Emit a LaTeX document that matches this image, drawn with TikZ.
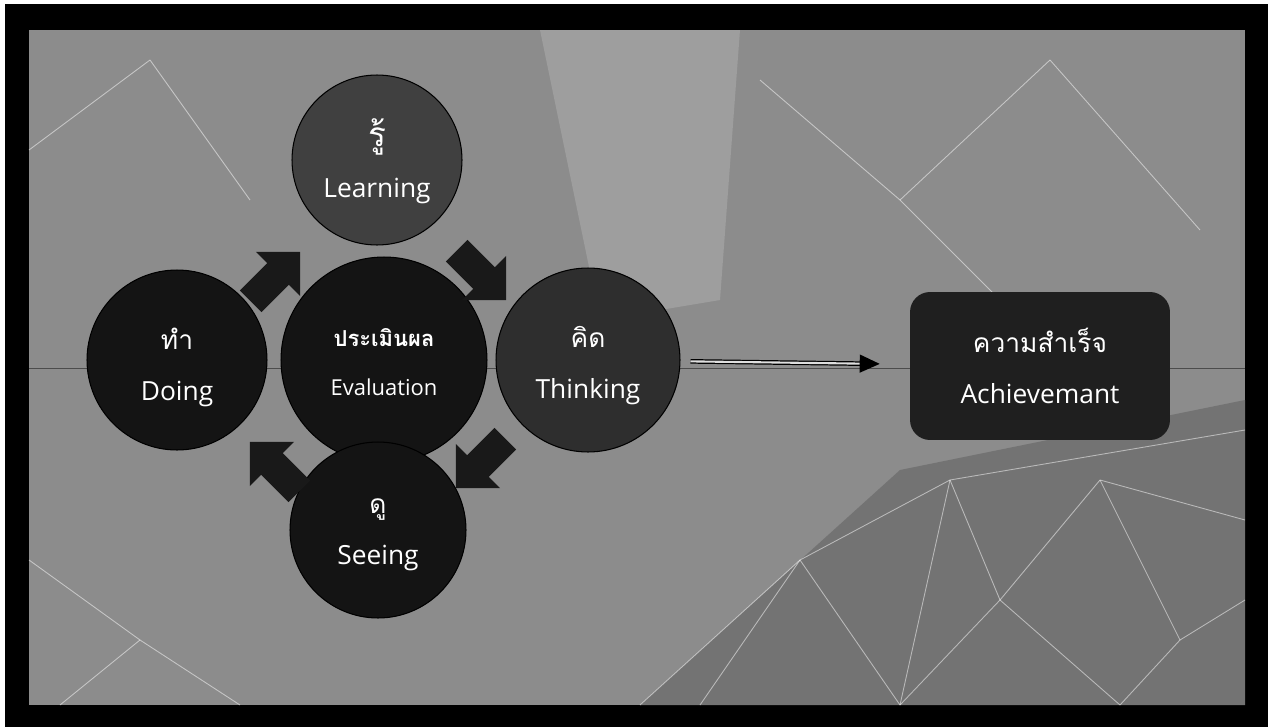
\documentclass[tikz,border=0pt]{standalone}
\usepackage{fontspec}
\setmainfont{Open Sans}
\newfontfamily\thaifont[Script=Thai]{Loma}
\usetikzlibrary{arrows.meta, positioning, shapes.arrows}

\begin{document}
\begin{tikzpicture}[
        x=0.02cm, y=-0.02cm,
        disc/.style={circle, draw=black, line width=0.6pt, fill=black!92},
        caption/.style={text=white, align=center, inner sep=0pt,
            font=\fontsize{15}{29}\selectfont},
        goalbox/.style={rectangle, rounded corners=0.4cm, fill=black!88,
            text=white, align=center, minimum width=5.2cm, minimum height=2.96cm,
            font=\fontsize{15}{29}\selectfont},
        turn/.style={single arrow, fill=black!90, inner xsep=0pt, inner ysep=0.3cm,
            minimum height=1.4cm, single arrow head extend=0.32cm},
        mesh/.style={white, opacity=0.5, line width=0.5pt},
        link/.style={-{Triangle[length=4mm, width=3.6mm]}, double=gray!25,
            double distance=1.2pt, line width=0.7pt}
    ]
        % frame and background
        \useasboundingbox (0,0) rectangle (1275,727);
        \fill[white] (0,0) rectangle (1275,727);
        \fill[black] (5,4) rectangle (1268,727);
        \fill[black!45] (29,30) rectangle (1245,705);
        \fill[black!38] (540,30) -- (740,30) -- (720,300) -- (600,320) -- cycle;
        \fill[black!55] (640,705) -- (900,470) -- (1245,400) -- (1245,705) -- cycle;
        \foreach \xa/\ya/\xb/\yb in {700/705/800/560, 800/560/900/705, 800/560/950/480,
                950/480/1000/600, 1000/600/1100/480, 1100/480/1245/520,
                1000/600/900/705, 1000/600/1120/705, 1100/480/1180/640,
                1180/640/1245/600, 1180/640/1120/705, 950/480/1245/430,
                900/705/950/480, 640/705/800/560, 29/150/150/60, 150/60/250/200,
                29/560/140/640, 140/640/240/705, 140/640/60/705, 760/80/900/200,
                900/200/1050/60, 1050/60/1200/230, 900/200/1000/300}{
            \draw[mesh] (\xa,\ya) -- (\xb,\yb);
        }
        \draw[black!70, line width=0.4pt] (29,368) -- (1245,368);

        % cycle
        \node[disc, fill=black!75, minimum size=3.4cm] (learn) at (377,160) {};
        \node[disc, minimum size=3.6cm] (doing) at (177,360) {};
        \node[disc, minimum size=4.12cm] (evalu) at (384,360) {};
        \node[disc, fill=black!82, minimum size=3.68cm] (think) at (588,360) {};
        \node[disc, minimum size=3.52cm] (seeing) at (378,530) {};

        \node[caption] (learn-t) at ([yshift=-0.02cm]learn.center)
            {{\thaifont\fontsize{19}{29}\selectfont รู้}\\Learning};
        \node[caption] (doing-t) at ([yshift=-0.14cm]doing.center)
            {{\thaifont ทำ}\\Doing};
        \node[caption, font=\fontsize{12.5}{28}\selectfont] (evalu-t) at ([yshift=-0.04cm]evalu.center)
            {{\thaifont\bfseries ประเมินผล}\\Evaluation};
        \node[caption] (think-t) at ([yshift=-0.12cm]think.center)
            {{\thaifont คิด}\\Thinking};
        \node[caption] (seeing-t) at ([yshift=-0.1cm]seeing.center)
            {{\thaifont ดู}\\Seeing};

        \node[turn, rotate=45] (t1) at (270,282) {};
        \node[turn, rotate=-45] (t2) at (476,270) {};
        \node[turn, rotate=-135] (t3) at (486,458) {};
        \node[turn, rotate=135] (t4) at (280,472) {};

        % result
        \node[goalbox] (goal) at (1040,366)
            {{\thaifont ความสำเร็จ}\\Achievemant};
        \draw[link, shorten <=0.2cm, shorten >=0.6cm] (think) -- (goal);
    \end{tikzpicture}
\end{document}
